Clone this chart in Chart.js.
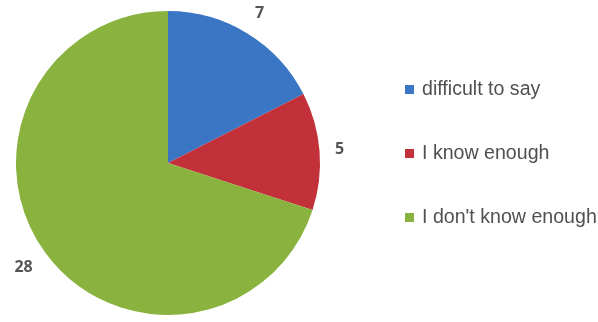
<!DOCTYPE html>
<html>
<head>
<meta charset="utf-8">
<script src="https://cdn.jsdelivr.net/npm/chart.js@4/dist/chart.umd.min.js"></script>
<style>
  html, body { margin: 0; padding: 0; background: #fff; }
  #wrap { width: 598px; height: 322px; }
</style>
</head>
<body>
<div id="wrap"><canvas id="pie"></canvas></div>
<script>
const categories = ['difficult to say', 'I know enough', "I don't know enough"];
const answers = [7, 5, 28];
const colors = ['#3a76c3', '#c2313a', '#8ab23e'];

// value labels just outside each slice, pushed out by the text box size
const sliceLabels = {
  id: 'sliceLabels',
  afterDatasetsDraw(chart) {
    const ctx = chart.ctx;
    const meta = chart.getDatasetMeta(0);
    ctx.save();
    ctx.font = 'bold 16px "Open Sans", Arial, sans-serif';
    ctx.fillStyle = '#555';
    ctx.textAlign = 'center';
    ctx.textBaseline = 'middle';
    meta.data.forEach((arc, i) => {
      const text = String(answers[i]);
      const mid = (arc.startAngle + arc.endAngle) / 2;
      const w = ctx.measureText(text).width, h = 14;
      const ext = Math.abs(Math.cos(mid)) * w / 2 + Math.abs(Math.sin(mid)) * h / 2;
      const r = arc.outerRadius + 15 + ext;
      ctx.fillText(text, arc.x + Math.cos(mid) * r, arc.y + Math.sin(mid) * r);
    });
    ctx.restore();
  }
};

// legend drawn on the right side
const sideLegend = {
  id: 'sideLegend',
  afterDraw(chart) {
    const ctx = chart.ctx;
    const x = 405, rows = [89, 153, 217];
    ctx.save();
    ctx.font = '19.6px "Liberation Sans", Arial, sans-serif';
    ctx.textBaseline = 'middle';
    categories.forEach((name, i) => {
      ctx.fillStyle = colors[i];
      ctx.fillRect(x, rows[i] - 4, 9, 9);
      ctx.fillStyle = '#505050';
      ctx.fillText(name, x + 17, rows[i] + 1);
    });
    ctx.restore();
  }
};

new Chart(document.getElementById('pie').getContext('2d'), {
  type: 'pie',
  data: {
    labels: categories,
    datasets: [{
      data: answers,
      backgroundColor: colors,
      borderWidth: 0
    }]
  },
  options: {
    responsive: true,
    maintainAspectRatio: false,
    animation: false,
    layout: { padding: { left: 16, top: 11, right: 278, bottom: 7 } },
    plugins: {
      legend: { display: false },
      tooltip: { enabled: false }
    }
  },
  plugins: [sliceLabels, sideLegend]
});
</script>
</body>
</html>
